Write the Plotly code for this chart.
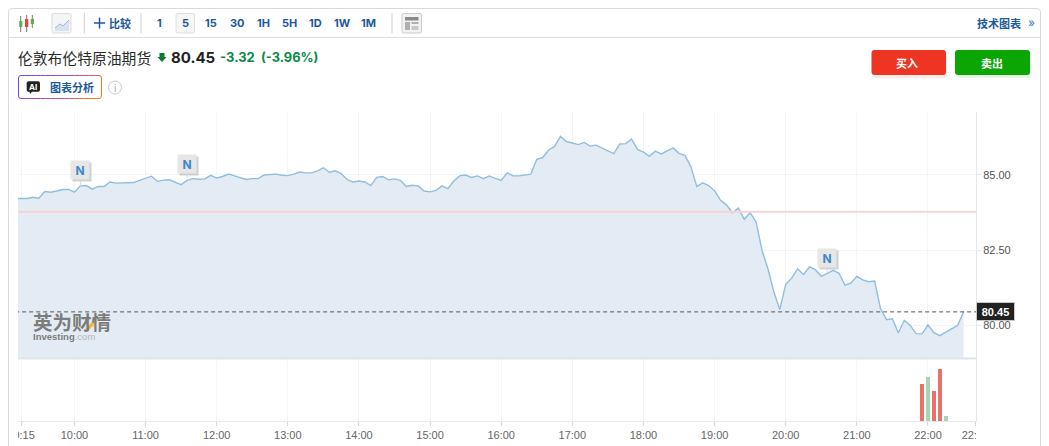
import pandas as pd
import plotly.graph_objects as go

W, H = 1049, 446
prices = [
    84.21, 84.21, 84.21, 84.25, 84.22, 84.44, 84.42, 84.46, 84.51, 84.51, 84.42, 84.63,
    84.64, 84.52, 84.61, 84.61, 84.76, 84.72, 84.73, 84.73, 84.74, 84.81, 84.88, 84.95,
    84.78, 84.82, 84.83, 84.75, 84.67, 84.81, 84.87, 84.85, 84.86, 84.98, 84.89, 84.94,
    85.02, 84.96, 84.89, 84.84, 84.87, 84.87, 84.99, 85.00, 85.02, 84.98, 84.97, 85.02,
    85.09, 85.06, 85.06, 85.13, 85.23, 85.08, 85.13, 85.04, 84.84,
    84.76, 84.79, 84.76, 84.64, 84.91, 84.94, 84.83, 84.86, 84.81, 84.61, 84.65, 84.63,
    84.46, 84.43, 84.48, 84.63, 84.54, 84.79, 84.96, 84.99, 84.91, 84.96, 84.87, 84.96,
    84.88, 84.81, 85.06, 84.96, 84.96, 84.99, 85.02, 85.51, 85.57, 85.82, 85.94, 86.27,
    86.10, 86.05, 86.00, 86.07, 85.95, 85.98, 85.88, 85.79, 85.70, 86.02, 86.03, 86.18,
    85.84, 85.75, 85.61, 85.78, 85.69, 85.79, 85.89, 85.71, 85.64, 85.26, 84.61,
    84.73, 84.64, 84.47, 84.15, 84.00, 83.74, 83.89, 83.52, 83.74, 83.43, 82.49, 81.88,
    81.11, 80.53, 81.36, 81.57, 81.88, 81.69, 81.94, 81.85, 81.63, 81.72, 81.83, 81.73,
    81.33, 81.41, 81.63, 81.51, 81.45, 81.47, 80.55, 80.19, 80.22, 79.75, 80.17, 80.00,
    79.73, 79.72, 80.02, 79.76, 79.66, 79.78, 79.89, 80.00, 80.45,
]
start_time = "2024-01-02 09:10"
times = pd.date_range(start_time, periods=len(prices), freq="5min")

volume_times = ["2024-01-02 21:55", "2024-01-02 22:00", "2024-01-02 22:05", "2024-01-02 22:10", "2024-01-02 22:15"]
volumes = [1100, 1320, 900, 1570, 140]
volume_colors = ["#e8716c", "#a6d7b4", "#e8716c", "#e8716c", "#a6d7b4"]

tick_times = ["09:15", "10:00", "11:00", "12:00", "13:00", "14:00", "15:00", "16:00", "17:00",
              "18:00", "19:00", "20:00", "21:00", "22:00", "22:40"]
price_ticks = [85.0, 82.5, 80.0]
last_price = 80.45
prev_close = 83.77
news_times = ["2024-01-02 10:05", "2024-01-02 11:35", "2024-01-02 20:35"]
news_prices = [84.63, 84.87, 81.72]
news_lifts = [-16, -15, -16]

toolbar_labels = ["1", "5", "15", "30", "1H", "5H", "1D", "1W", "1M"]
toolbar_centers = [159.5, 185.3, 211, 237.5, 263, 289, 315.5, 342, 368]

FONT = "Inter, 'Noto Sans CJK SC', sans-serif"
CJK = "'Noto Sans CJK SC', sans-serif"
AXF = "'Liberation Sans', Arial, sans-serif"
BLUE = "#1c5a9a"


def px(x):
    return x / W


def py(y):
    return 1 - y / H


shapes, annos = [], []


def rect(x0, y0, x1, y1, fill=None, line=None, lw=1, layer="above"):
    shapes.append(dict(type="rect", xref="paper", yref="paper", x0=px(x0), x1=px(x1), y0=py(y0), y1=py(y1),
                       fillcolor=fill or "rgba(0,0,0,0)", line=dict(color=line or "rgba(0,0,0,0)", width=lw if line else 0),
                       layer=layer))


def seg(x0, y0, x1, y1, color, lw=1, dash="solid", layer="above"):
    shapes.append(dict(type="line", xref="paper", yref="paper", x0=px(x0), x1=px(x1), y0=py(y0), y1=py(y1),
                       line=dict(color=color, width=lw, dash=dash), layer=layer))


def poly(pts, fill=None, line=None, lw=1, closed=True):
    d = "M" + " L".join(f"{px(a):.5f},{py(b):.5f}" for a, b in pts) + (" Z" if closed else "")
    shapes.append(dict(type="path", xref="paper", yref="paper", path=d, fillcolor=fill or "rgba(0,0,0,0)",
                       line=dict(color=line or "rgba(0,0,0,0)", width=lw if line else 0), layer="above"))


def rrect(x0, y0, x1, y1, r, fill=None, line=None, lw=1):
    P = lambda a, b: f"{px(a):.5f},{py(b):.5f}"
    d = (f"M{P(x0+r,y0)} L{P(x1-r,y0)} Q{P(x1,y0)} {P(x1,y0+r)} L{P(x1,y1-r)} Q{P(x1,y1)} {P(x1-r,y1)} "
         f"L{P(x0+r,y1)} Q{P(x0,y1)} {P(x0,y1-r)} L{P(x0,y0+r)} Q{P(x0,y0)} {P(x0+r,y0)} Z")
    shapes.append(dict(type="path", xref="paper", yref="paper", path=d, fillcolor=fill or "rgba(0,0,0,0)",
                       line=dict(color=line or "rgba(0,0,0,0)", width=lw if line else 0), layer="above"))


def text(x, y, s, size=12, color="#333", anchor="center", family=FONT):
    annos.append(dict(xref="paper", yref="paper", x=px(x), y=py(y), text=s, showarrow=False, xanchor=anchor,
                      yanchor="middle", font=dict(size=size, color=color, family=family), borderpad=0))


# axis end masks: tick labels are cut by the chart frame
rect(0, 422, 18, 446, fill="#ffffff")
rect(976, 422, 1049, 446, fill="#ffffff")

# frame
rrect(8.5, 8.5, 1040.5, 460, 4, line="#d9d9d9")
seg(9, 37.5, 1040, 37.5, "#dedede")

# toolbar icons
for wx, wy0, wy1, bx0, bx1, by0, by1, col in [
    (20.7, 16, 32, 19.2, 22.3, 21, 27, "#5fb04f"),
    (26.7, 15, 32, 25.0, 28.3, 19, 27, "#e8423a"),
    (32.3, 15, 28, 30.7, 34.0, 19, 24, "#5fb04f"),
]:
    seg(wx, wy0, wx, wy1, "#777")
    rect(bx0, by0, bx1, by1, fill=col)
rrect(52, 13.5, 71, 33, 1.5, fill="#f4f5f7", line="#dddddd")
poly([(55, 28), (60, 24), (63, 26), (69, 20), (69, 31), (55, 31)], fill="#d8e2f0")
poly([(55, 28), (60, 24), (63, 26), (69, 20)], line="#9db8d8", closed=False)
for sx in (84.3, 141, 392):
    seg(sx, 13, sx, 33.5, "#cfcfcf")
seg(94, 23, 105, 23, BLUE, 1.5)
seg(99.5, 17.5, 99.5, 28.5, BLUE, 1.5)
text(120, 23, "<b>比较</b>", 11, BLUE, family=CJK)
rrect(176, 13.5, 194.5, 33, 2, fill="#f7f7f7", line="#dddddd")
for lab, cx in zip(toolbar_labels, toolbar_centers):
    text(cx, 23.2, f"<b>{lab}</b>", 11, BLUE)
rrect(402, 13.5, 421.5, 33, 1.5, fill="#f2f2f2", line="#cccccc")
rect(405, 17, 418.5, 20.5, fill="#8a8a8a")
rect(405, 22, 410, 30, fill="#b0b0b0")
rect(411.5, 22, 418.5, 24, fill="#b0b0b0")
rect(411.5, 26, 418.5, 30, fill="#c8c8c8")
text(999, 23, "<b>技术图表</b>", 11, BLUE, family=CJK)
text(1031, 22.5, "»", 12, "#3f78b8")

# quote title
text(17, 57, "伦敦布伦特原油期货", 14.8, "#2a2a2a", "left", CJK)
poly([(159.5, 53), (164.5, 53), (164.5, 57), (166.5, 57), (162, 62), (157.5, 57), (159.5, 57)], fill="#0a7a33")
text(170, 57, "<b>80.45</b>", 15, "#222222", "left")
text(218.5, 57, "<b>-3.32</b>", 13, "#0a8a45", "left")
text(260, 57, "<b>(-3.96%)</b>", 12.8, "#0a8a45", "left")

# AI button
stops = [(107, 70, 232), (150, 70, 200), (225, 80, 120), (250, 125, 0)]


def grad(t):
    t = t * (len(stops) - 1)
    i = min(int(t), len(stops) - 2)
    f = t - i
    return "rgb(%d,%d,%d)" % tuple(stops[i][k] + (stops[i + 1][k] - stops[i][k]) * f for k in range(3))


n = 16
for i in range(n):
    a = 21 + (78 * i / n)
    b = 21 + (78 * (i + 1) / n)
    seg(a, 75.5, b, 75.5, grad(i / n * 0.8))
    seg(a, 98.5, b, 98.5, grad(0.25 + i / n * 0.75))
seg(18.5, 78, 18.5, 96, grad(0.05))
seg(101.5, 78, 101.5, 96, grad(1))
poly([(18.5, 78), (19.2, 76.2), (21, 75.5)], line=grad(0), closed=False)
poly([(18.5, 96), (19.2, 97.8), (21, 98.5)], line=grad(0.2), closed=False)
poly([(99, 75.5), (100.8, 76.2), (101.5, 78)], line=grad(0.85), closed=False)
poly([(99, 98.5), (100.8, 97.8), (101.5, 96)], line=grad(1), closed=False)
rrect(26.7, 81.3, 40, 91.7, 2, fill="#222222")
poly([(29.5, 91), (32.5, 91), (30, 94)], fill="#222222")
text(33.3, 86.7, "<b>AI</b>", 8, "#ffffff", family=FONT)
text(71.5, 87, "<b>图表分析</b>", 11, BLUE, family=CJK)
shapes.append(dict(type="circle", xref="paper", yref="paper", x0=px(108.5), x1=px(121.5), y0=py(94), y1=py(81),
                   line=dict(color="#cccccc", width=1), layer="above"))
text(115, 87.5, "i", 10, "#aaaaaa", family=FONT)

# buy and sell
rrect(873, 53, 947, 78, 4, fill="rgba(238,53,36,0.10)")
rrect(957, 53, 1031, 78, 4, fill="rgba(11,165,4,0.10)")
rrect(871.5, 50, 946, 75, 3, fill="#ee3524")
rrect(955, 50, 1030, 75, 3, fill="#0ba504")
text(907, 62.5, "<b>买入</b>", 11, "#ffffff", family=CJK)
text(991.5, 62.5, "<b>卖出</b>", 11, "#ffffff", family=CJK)

# watermark, one block of text with two lines
annos.append(dict(
    xref="paper", yref="paper", x=px(32), y=py(324), xanchor="left", yanchor="middle", align="left", showarrow=False,
    borderpad=0, font=dict(size=7.5, color="#7c7c7c", family=CJK),
    text=("<span style='font-size:19.5px'><b>英为财情</b></span><br>"
          "<span style=\"font-size:9.5px;font-family:'Liberation Sans'\"><b>Investing</b></span>"
          "<span style=\"font-size:9.5px;font-family:'Liberation Sans';fill:#b5b5b5\">.com</span>"),
))
poly([(83, 331), (92, 322), (97, 322), (88, 331)], fill="#f3b93f")

# news flags are tied to the data through axis coordinates
for t, p, lift in zip(news_times, news_prices, news_lifts):
    annos.append(dict(x=t, y=p, xref="x", yref="y", text="", showarrow=True, ax=2, ay=lift + 2, arrowhead=0,
                      arrowwidth=0.1, arrowcolor="rgba(0,0,0,0)", width=18, height=18, bgcolor="rgba(120,120,120,0.35)",
                      borderpad=0))
    annos.append(dict(x=t, y=p, xref="x", yref="y", text="<b>N</b>", showarrow=True, ax=0, ay=lift, arrowhead=0,
                      arrowwidth=1, arrowcolor="#d8d8d8", width=18, height=18, bgcolor="#e6e6e6",
                      font=dict(size=12, color="#3f87cc", family=FONT), borderpad=0))

# last price tag
annos.append(dict(xref="paper", yref="y", x=px(976), y=last_price, text="<b>80.45</b>", showarrow=False, xanchor="left",
                  yanchor="middle", bgcolor="#222222", bordercolor="#c9c9c9", borderwidth=1, borderpad=1, width=35,
                  height=15, font=dict(size=11, color="#ffffff", family=AXF)))

fig = go.Figure()
fig.add_trace(go.Scatter(x=times, y=prices, mode="lines", line=dict(color="#92bedd", width=1.4),
                         fill="tozeroy", fillcolor="#e3ecf4", hoverinfo="skip", xaxis="x", yaxis="y", showlegend=False))
fig.add_trace(go.Scatter(x=[times[0], "2024-01-02 22:40:30"], y=[prev_close, prev_close], mode="lines",
                         line=dict(color="#f9d2d2", width=2), hoverinfo="skip", xaxis="x", yaxis="y", showlegend=False))
fig.add_trace(go.Scatter(x=[times[0], "2024-01-02 22:40:30"], y=[last_price, last_price], mode="lines",
                         line=dict(color="#555555", width=1, dash="4px,3px"), hoverinfo="skip", xaxis="x", yaxis="y", showlegend=False))
fig.add_trace(go.Bar(x=pd.to_datetime(volume_times), y=volumes, marker=dict(color=volume_colors, line=dict(width=0)),
                     width=200000, hoverinfo="skip", xaxis="x", yaxis="y2", showlegend=False))

fig.update_layout(
    width=W, height=H, margin=dict(l=0, r=0, t=0, b=0, autoexpand=False), paper_bgcolor="#ffffff", plot_bgcolor="#ffffff",
    shapes=shapes, annotations=annos, hovermode=False, bargap=0,
    xaxis=dict(
        type="date", domain=[px(18), px(976)], anchor="y2", range=["2024-01-02 09:12:24", "2024-01-02 22:40:30"],
        tickmode="array", tickvals=[f"2024-01-02 {t}" for t in tick_times],
        ticktext=tick_times, showgrid=True, gridcolor="#f3f4f6", gridwidth=1,
        showline=True, linecolor="#e6e8ee", linewidth=1, ticks="outside", ticklen=4, tickcolor="#d5d8de",
        tickfont=dict(size=11, color="#666666", family=AXF), zeroline=False,
    ),
    yaxis=dict(
        domain=[py(358), py(112)], range=[78.92, 87.08], side="right", anchor="x", tickmode="array",
        tickvals=price_ticks, ticktext=[f"{v:.2f}" for v in price_ticks], showgrid=True, gridcolor="#f3f4f6",
        showline=True, linecolor="#e6e8ee", linewidth=1, ticks="outside", ticklen=4, tickcolor="#e6e8ee",
        tickfont=dict(size=11, color="#555555", family=AXF), zeroline=False,
    ),
    yaxis2=dict(
        domain=[py(421), py(358)], range=[0, 1890], side="right", anchor="x", showticklabels=False, ticks="",
        showgrid=False, showline=True, linecolor="#e6e8ee", linewidth=1, zeroline=False,
    ),
)
# price/volume divider
fig.add_shape(type="line", xref="paper", yref="paper", x0=px(18), x1=px(976), y0=py(358.5), y1=py(358.5),
              line=dict(color="#dfe3e8", width=2), layer="above")

fig.write_html("out.html", config={"displayModeBar": False},
               post_script="document.body.style.margin='0';document.documentElement.style.overflow='hidden';")
